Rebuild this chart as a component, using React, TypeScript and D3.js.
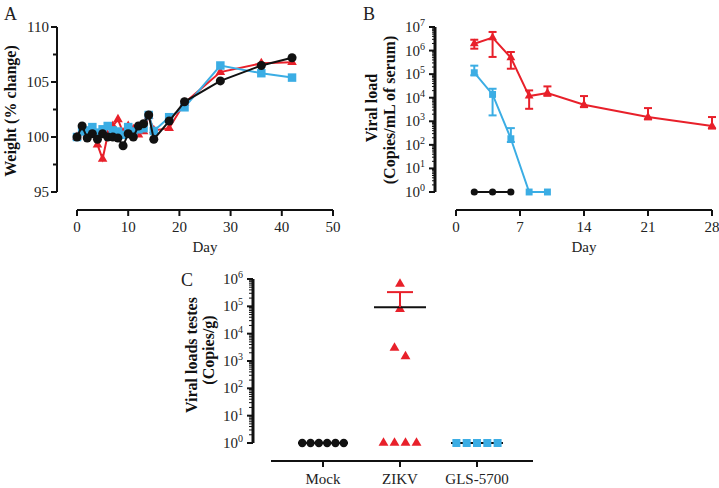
import React from "react";
import * as d3 from "d3";

// ---------- DATA ----------
// Panel A: weight (% change) by day
const daysA = [0, 1, 2, 3, 4, 5, 6, 7, 8, 9, 10, 11, 12, 13, 14, 15, 18, 21, 28, 36, 42];
const weightZIKV = [100, 100.5, 100.3, 100.5, 99.3, 98.0, 100.2, 101.0, 101.6, 100.4, 101.0, 100.7, 100.2, 100.5, 101.9, 100.6, 100.8, 103.1, 105.9, 106.7, 106.8];
const weightGLS = [100, 100.5, 100.6, 100.9, 100.4, 100.7, 101.0, 100.6, 100.5, 100.2, 100.9, 100.5, 100.7, 100.8, 102.0, 100.55, 101.8, 102.7, 106.5, 105.8, 105.4];
const weightMock = [100, 101.0, 99.9, 100.3, 99.8, 100.3, 100.0, 100.0, 99.9, 99.2, 100.3, 100.0, 101.0, 101.2, 102.0, 99.8, 101.45, 103.2, 105.1, 106.5, 107.2];
const ticksAx = [0, 10, 20, 30, 40, 50];
const ticksAy = [95, 100, 105, 110];
const minorAy = [97.5, 102.5, 107.5];

// Panel B: viral load (copies/mL of serum), log10 values
const daysBZ = [2, 4, 6, 8, 10, 14, 21, 28];
const logZ = [6.29, 6.55, 5.70, 4.07, 4.20, 3.70, 3.18, 2.80];
const logZHi = [6.46, 6.79, 5.94, 4.31, 4.48, 4.07, 3.56, 3.18];
const logZLo = [6.08, 5.73, 5.23, 3.53, 4.08, 3.60, 3.08, 2.69];
const daysBG = [2, 4, 6, 8, 10];
const logG = [5.06, 4.14, 2.26, 0, 0];
const logGHi = [5.36, 4.38, 2.71, 0, 0];
const logGLo = [4.95, 3.25, 2.12, 0, 0];
const daysBM = [2, 4, 6];
const logM = [0, 0, 0];
const ticksBx = [0, 7, 14, 21, 28];
const decadesB = [0, 1, 2, 3, 4, 5, 6, 7];

// Panel C: viral loads testes (copies/g), log10 values
const groupsC = ["Mock", "ZIKV", "GLS-5700"];
const logCMock = [0, 0, 0, 0, 0, 0];
const logCZIKV = [5.82, 4.90, 3.48, 3.17, 0, 0, 0, 0];
const logCGLS = [0, 0, 0, 0, 0];
const zikvMeanLog = 4.97;
const zikvSemHiLog = 5.52;
const decadesC = [0, 1, 2, 3, 4, 5, 6];

// ---------- STYLE ----------
const RED = "#e8202a";
const BLUE = "#3badE4";
const BLACK = "#111111";
const FONT = "'Liberation Serif', 'DejaVu Serif', serif";
const TICK_FS = 15;
const TITLE_FS = 16;

const sym = (type: d3.SymbolType, size: number) => d3.symbol().type(type).size(size)()!;

function Sup({ x, y, exp }: { x: number; y: number; exp: number }) {
  return (
    <text x={x} y={y} textAnchor="end" fontSize={TICK_FS} fontFamily={FONT} fill="#222">
      10<tspan dy={-6} fontSize={10}>{exp}</tspan>
    </text>
  );
}

export default function App() {
  const xA = d3.scaleLinear().domain([0, 50]).range([77, 333]);
  const yA = d3.scaleLinear().domain([95, 110]).range([192, 27]);
  const lineA = (vals: number[]) =>
    d3.line<number>().x((_, i) => xA(daysA[i])).y((v) => yA(v))(vals)!;

  const xB = d3.scaleLinear().domain([0, 28]).range([456, 712]);
  const yB = d3.scaleLinear().domain([0, 7]).range([192, 27]);
  const lineB = (days: number[], vals: number[]) =>
    d3.line<number>().x((_, i) => xB(days[i])).y((v) => yB(v))(vals)!;

  const xC = d3.scalePoint<string>().domain(groupsC).range([323, 477]);
  const yC = d3.scaleLinear().domain([0, 6]).range([443, 279]);

  const swarm = (vals: number[], spacing: number) => {
    const out: number[] = new Array(vals.length).fill(0);
    const used = new Array(vals.length).fill(false);
    vals.forEach((v, i) => {
      if (used[i]) return;
      const grp = vals.map((_, j) => j).filter((j) => !used[j] && Math.abs(vals[j] - v) < 0.5);
      grp.forEach((j, k) => {
        used[j] = true;
        out[j] = (k - (grp.length - 1) / 2) * spacing;
      });
    });
    return out;
  };

  const axisW = 2;
  const tri = (s: number) => sym(d3.symbolTriangle, s);
  const sq = (s: number) => sym(d3.symbolSquare, s);
  const circ = (s: number) => sym(d3.symbolCircle, s);

  const errBars = (days: number[], hi: number[], lo: number[], vals: number[], color: string) =>
    days.map((d, i) =>
      hi[i] === vals[i] && lo[i] === vals[i] ? null : (
        <g key={"e" + i} stroke={color} strokeWidth={2} fill="none">
          <line x1={xB(d)} x2={xB(d)} y1={yB(hi[i])} y2={yB(lo[i])} />
          <line x1={xB(d) - 4} x2={xB(d) + 4} y1={yB(hi[i])} y2={yB(hi[i])} />
          <line x1={xB(d) - 4} x2={xB(d) + 4} y1={yB(lo[i])} y2={yB(lo[i])} />
        </g>
      )
    );

  const minorLogs = (decs: number[]) => {
    const out: number[] = [];
    decs.slice(0, -1).forEach((d) => {
      for (let m = 2; m <= 9; m++) out.push(d + Math.log10(m));
    });
    return out;
  };

  const offM = swarm(logCMock, 8.3);
  const offZ = swarm(logCZIKV, 11);
  const offG = swarm(logCGLS, 10.3);

  return (
    <svg width={719} height={488} style={{ position: "absolute", left: 0, top: 0, background: "#fff" }} fontFamily={FONT}>
      <rect width={719} height={488} fill="#fff" />
      {/* ================= Panel A ================= */}
      <text x={4} y={20} fontSize={18} fill="#222">A</text>
      <line x1={57} x2={57} y1={yA(110)} y2={yA(95)} stroke={BLACK} strokeWidth={axisW} />
      {ticksAy.map((t) => (
        <g key={"ay" + t}>
          <line x1={51} x2={57} y1={yA(t)} y2={yA(t)} stroke={BLACK} strokeWidth={2} />
          <text x={49} y={yA(t) + 5} textAnchor="end" fontSize={TICK_FS} fill="#222">{t}</text>
        </g>
      ))}
      {minorAy.map((t) => (
        <line key={"amy" + t} x1={53} x2={57} y1={yA(t)} y2={yA(t)} stroke={BLACK} strokeWidth={2} />
      ))}
      <line x1={xA(0)} x2={xA(50)} y1={210} y2={210} stroke={BLACK} strokeWidth={axisW} />
      {ticksAx.map((t) => (
        <g key={"ax" + t}>
          <line x1={xA(t)} x2={xA(t)} y1={210} y2={216} stroke={BLACK} strokeWidth={2} />
          <text x={xA(t)} y={232} textAnchor="middle" fontSize={TICK_FS} fill="#222">{t}</text>
        </g>
      ))}
      <text x={xA(25)} y={252} textAnchor="middle" fontSize={15} fill="#222">Day</text>
      <text transform={`translate(16,111) rotate(-90)`} textAnchor="middle" fontSize={TITLE_FS} fontWeight="bold" fill="#111">
        Weight (% change)
      </text>
      <path d={lineA(weightZIKV)} fill="none" stroke={RED} strokeWidth={2} />
      {weightZIKV.map((v, i) => (
        <path key={"ar" + i} d={tri(40)} transform={`translate(${xA(daysA[i])},${yA(v)})`} fill={RED} />
      ))}
      <path d={lineA(weightGLS)} fill="none" stroke={BLUE} strokeWidth={2} />
      {weightGLS.map((v, i) => (
        <path key={"ab" + i} d={sq(72)} transform={`translate(${xA(daysA[i])},${yA(v)})`} fill={BLUE} />
      ))}
      <path d={lineA(weightMock)} fill="none" stroke={BLACK} strokeWidth={2} />
      {weightMock.map((v, i) => (
        <path key={"ak" + i} d={circ(64)} transform={`translate(${xA(daysA[i])},${yA(v)})`} fill={BLACK} />
      ))}

      {/* ================= Panel B ================= */}
      <text x={363} y={20} fontSize={18} fill="#222">B</text>
      <line x1={435} x2={435} y1={yB(7)} y2={yB(0)} stroke={BLACK} strokeWidth={3} />
      {decadesB.map((d) => (
        <g key={"by" + d}>
          <line x1={429} x2={435} y1={yB(d)} y2={yB(d)} stroke={BLACK} strokeWidth={2} />
          <Sup x={425} y={yB(d) + 5} exp={d} />
        </g>
      ))}
      {minorLogs(decadesB).map((m, i) => (
        <line key={"bmy" + i} x1={432} x2={435} y1={yB(m)} y2={yB(m)} stroke={BLACK} strokeWidth={1} />
      ))}
      <line x1={xB(0)} x2={xB(28)} y1={210} y2={210} stroke={BLACK} strokeWidth={axisW} />
      {ticksBx.map((t) => (
        <g key={"bx" + t}>
          <line x1={xB(t)} x2={xB(t)} y1={210} y2={216} stroke={BLACK} strokeWidth={2} />
          <text x={xB(t)} y={232} textAnchor="middle" fontSize={TICK_FS} fill="#222">{t}</text>
        </g>
      ))}
      <text x={xB(14)} y={252} textAnchor="middle" fontSize={15} fill="#222">Day</text>
      <text transform={`translate(377,108) rotate(-90)`} textAnchor="middle" fontSize={TITLE_FS} fontWeight="bold" fill="#111">
        Viral load
      </text>
      <text transform={`translate(395,110) rotate(-90)`} textAnchor="middle" fontSize={TITLE_FS} fontWeight="bold" fill="#111">
        (Copies/mL of serum)
      </text>
      {errBars(daysBZ, logZHi, logZLo, logZ, RED)}
      <path d={lineB(daysBZ, logZ)} fill="none" stroke={RED} strokeWidth={2} />
      {logZ.map((v, i) => (
        <path key={"br" + i} d={tri(34)} transform={`translate(${xB(daysBZ[i])},${yB(v)})`} fill={RED} />
      ))}
      {errBars(daysBG, logGHi, logGLo, logG, BLUE)}
      <path d={lineB(daysBG, logG)} fill="none" stroke={BLUE} strokeWidth={2} />
      {logG.map((v, i) => (
        <path key={"bb" + i} d={sq(48)} transform={`translate(${xB(daysBG[i])},${yB(v)})`} fill={BLUE} />
      ))}
      <path d={lineB(daysBM, logM)} fill="none" stroke={BLACK} strokeWidth={2} />
      {logM.map((v, i) => (
        <path key={"bk" + i} d={circ(40)} transform={`translate(${xB(daysBM[i])},${yB(v)})`} fill={BLACK} />
      ))}

      {/* ================= Panel C ================= */}
      <text x={181} y={286} fontSize={18} fill="#222">C</text>
      <line x1={253} x2={253} y1={yC(6)} y2={yC(0)} stroke={BLACK} strokeWidth={3} />
      {decadesC.map((d) => (
        <g key={"cy" + d}>
          <line x1={247} x2={253} y1={yC(d)} y2={yC(d)} stroke={BLACK} strokeWidth={2} />
          <Sup x={243} y={yC(d) + 5} exp={d} />
        </g>
      ))}
      {minorLogs(decadesC).map((m, i) => (
        <line key={"cmy" + i} x1={249} x2={253} y1={yC(m)} y2={yC(m)} stroke={BLACK} strokeWidth={1} />
      ))}
      <line x1={271} x2={533} y1={461} y2={461} stroke={BLACK} strokeWidth={axisW} />
      {groupsC.map((g) => (
        <g key={"cx" + g}>
          <line x1={xC(g)!} x2={xC(g)!} y1={461} y2={467} stroke={BLACK} strokeWidth={2} />
          <text x={xC(g)!} y={484} textAnchor="middle" fontSize={TICK_FS} fill="#222">{g}</text>
        </g>
      ))}
      <text transform={`translate(197,355) rotate(-90)`} textAnchor="middle" fontSize={TITLE_FS} fontWeight="bold" fill="#111">
        Viral loads testes
      </text>
      <text transform={`translate(214,350) rotate(-90)`} textAnchor="middle" fontSize={TITLE_FS} fontWeight="bold" fill="#111">
        (Copies/g)
      </text>
      <line x1={xC("Mock")! - 25} x2={xC("Mock")! + 25} y1={yC(0)} y2={yC(0)} stroke={BLACK} strokeWidth={2} />
      {logCMock.map((v, i) => (
        <path key={"cm" + i} d={circ(55)} transform={`translate(${xC("Mock")! + offM[i]},${yC(v)})`} fill={BLACK} />
      ))}
      {logCZIKV.map((v, i) => (
        <path key={"cz" + i} d={tri(42)} transform={`translate(${xC("ZIKV")! + offZ[i]},${yC(v)})`} fill={RED} />
      ))}
      <line x1={xC("ZIKV")! - 26} x2={xC("ZIKV")! + 26} y1={yC(zikvMeanLog)} y2={yC(zikvMeanLog)} stroke={BLACK} strokeWidth={2} />
      <g stroke={RED} strokeWidth={2}>
        <line x1={xC("ZIKV")!} x2={xC("ZIKV")!} y1={yC(zikvMeanLog)} y2={yC(zikvSemHiLog)} />
        <line x1={xC("ZIKV")! - 13} x2={xC("ZIKV")! + 13} y1={yC(zikvSemHiLog)} y2={yC(zikvSemHiLog)} />
      </g>
      <line x1={xC("GLS-5700")! - 26} x2={xC("GLS-5700")! + 26} y1={yC(0)} y2={yC(0)} stroke={BLACK} strokeWidth={2} />
      {logCGLS.map((v, i) => (
        <path key={"cg" + i} d={sq(64)} transform={`translate(${xC("GLS-5700")! + offG[i]},${yC(v)})`} fill={BLUE} />
      ))}
    </svg>
  );
}
